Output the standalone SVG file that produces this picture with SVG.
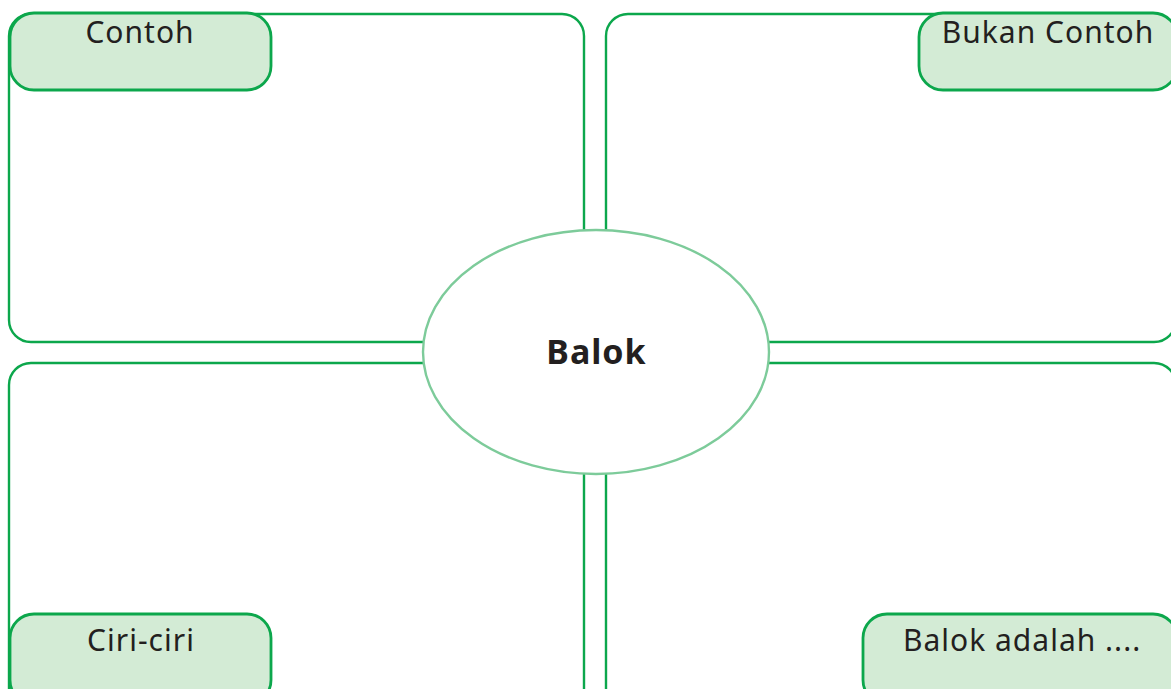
<svg xmlns="http://www.w3.org/2000/svg" width="1171" height="689" viewBox="0 0 1171 689">
<style>
.box{fill:#fff;stroke:#0ca74c;stroke-width:2.4}
.lab{fill:#d3ebd5;stroke:#0ca74c;stroke-width:2.8}
.t{font-family:"Noto Sans","Open Sans",sans-serif;font-size:30px;letter-spacing:1px;fill:#231f20}
</style>
<rect width="1171" height="689" fill="#fff"/>
<g id="quadrants">
<rect id="q-tl" class="box" x="9" y="14" width="575" height="328" rx="22"/>
<rect id="q-tr" class="box" x="606" y="14" width="570" height="328" rx="22"/>
<rect id="q-bl" class="box" x="9" y="363" width="575" height="350" rx="22"/>
<rect id="q-br" class="box" x="606" y="363" width="570" height="350" rx="22"/>
</g>
<g id="contoh"><rect class="lab" x="10" y="13" width="261" height="77" rx="24"/><text class="t" x="140" y="43" text-anchor="middle">Contoh</text></g>
<g id="bukan-contoh"><rect class="lab" x="919" y="13" width="258" height="77" rx="24"/><text class="t" x="1048" y="43" text-anchor="middle">Bukan Contoh</text></g>
<g id="ciri-ciri"><rect class="lab" x="10" y="614" width="261" height="90" rx="24"/><text class="t" x="141" y="651" text-anchor="middle">Ciri-ciri</text></g>
<g id="balok-adalah"><rect class="lab" x="863" y="614" width="314" height="90" rx="24"/><text class="t" x="903" y="651">Balok adalah ....</text></g>
<g id="balok"><ellipse cx="596" cy="352" rx="173" ry="122" fill="#fff" stroke="#7dcb9a" stroke-width="2.4"/><text x="596.5" y="364" text-anchor="middle" font-family="'Noto Sans','Open Sans',sans-serif" font-size="34" font-weight="bold" letter-spacing="1" fill="#231f20">Balok</text></g>
</svg>
